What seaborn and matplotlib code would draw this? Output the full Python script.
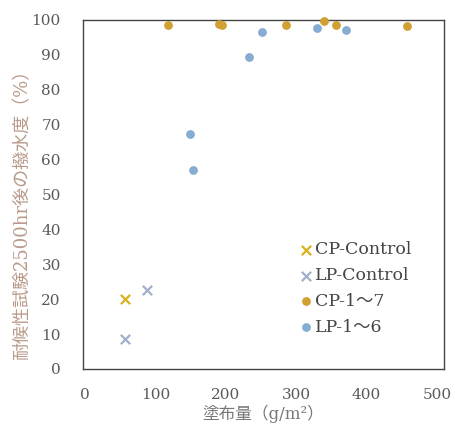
import matplotlib
matplotlib.use("Agg")
import matplotlib.pyplot as plt
import seaborn as sns
import pandas as pd

# Data
cp_ctrl_x = [57]
cp_ctrl_y = [20]
lp_ctrl_x = [57, 88]
lp_ctrl_y = [8.5, 22.5]
cp_x = [118, 190, 195, 285, 339, 356, 457]
cp_y = [98.6, 98.8, 98.4, 98.6, 99.7, 98.6, 98.3]
lp_x = [149, 153, 233, 251, 329, 371]
lp_y = [67.3, 57.0, 89.4, 96.6, 97.7, 97.1]

series = ["CP-Control", "LP-Control", "CP-1～7", "LP-1～6"]
rows = []
for name, xs, ys in zip(series, [cp_ctrl_x, lp_ctrl_x, cp_x, lp_x],
                        [cp_ctrl_y, lp_ctrl_y, cp_y, lp_y]):
    for x, y in zip(xs, ys):
        rows.append({"x": x, "y": y, "series": name})
df = pd.DataFrame(rows)

sns.set_style("white")
plt.rcParams["font.family"] = ["DejaVu Serif", "Noto Sans CJK JP", "DejaVu Sans"]

fig = plt.figure(figsize=(4.59, 4.32), dpi=100)
ax = fig.add_axes([0.181, 0.146, 0.786, 0.808])

palette = {"CP-Control": "#D9B21C", "LP-Control": "#A2AECB",
           "CP-1～7": "#D0A032", "LP-1～6": "#86ACD2"}

for name in series:
    sub = df[df.series == name]
    m = "x" if "Control" in name else "o"
    kw = dict(s=45, linewidth=1.6) if m == "x" else dict(s=40, linewidth=0)
    sns.scatterplot(data=sub, x="x", y="y", ax=ax, color=palette[name],
                    marker=m, label=name, clip_on=False, zorder=3, **kw)

ax.set_xlim(-3, 510)
ax.set_ylim(0, 100)
ax.set_xticks([0, 100, 200, 300, 400, 500])
ax.set_yticks(range(0, 101, 10))
ax.tick_params(axis="y", length=0, labelsize=11, colors="#5a5a5a", pad=16)
ax.tick_params(axis="x", length=0, labelsize=11, colors="#5a5a5a", pad=14)
for s in ax.spines.values():
    s.set_color("#444444")
    s.set_linewidth(1.0)
ax.set_xlabel("塗布量（g/m²）", fontsize=12, color="#777777", labelpad=2)
ax.set_ylabel("耐候性試験2500hr後の撥水度（%）", fontsize=13, color="#B89A8A")
ax.yaxis.set_label_coords(-0.142, 0.455)

leg = ax.legend(loc="upper left", bbox_to_anchor=(0.57, 0.39), frameon=False,
                fontsize=12.5, handletextpad=0.0, labelspacing=0.5,
                handlelength=1.0, borderpad=0)
for t in leg.get_texts():
    t.set_color("#444444")

fig.savefig("out.png", dpi=100)
